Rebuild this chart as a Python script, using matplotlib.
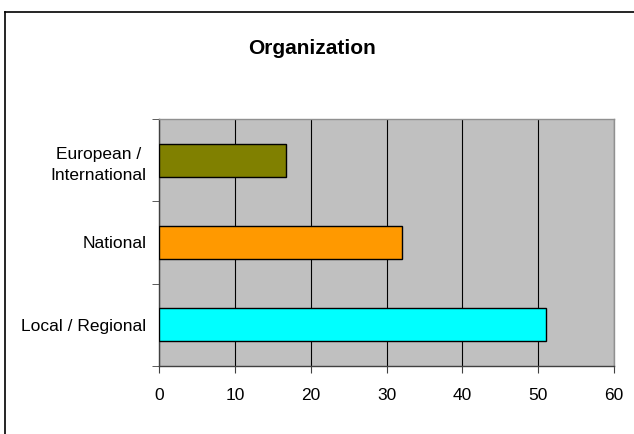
import matplotlib
matplotlib.use('Agg')
import matplotlib.pyplot as plt
from matplotlib.lines import Line2D

categories = ["Local / Regional", "National", "European / \nInternational"]
values = [51, 32, 16.7]
bar_colors = ["#00FFFF", "#FF9900", "#808000"]
x_ticks = [0, 10, 20, 30, 40, 50, 60]

plt.rcParams['font.family'] = ['Liberation Sans', 'DejaVu Sans']

fig = plt.figure(figsize=(6.34, 4.34), dpi=100)
W, H = 634, 434

# outer frame (left and top edge of the embedded chart)
fig.add_artist(Line2D([5 / W, 5 / W], [0, 1 - 12 / H], color='black', lw=1.2, transform=fig.transFigure))
fig.add_artist(Line2D([5 / W, 1], [1 - 12 / H, 1 - 12 / H], color='black', lw=1.2, transform=fig.transFigure))

ax = fig.add_axes([159 / W, 1 - 366 / H, (614 - 159) / W, (366 - 119) / H])
ax.set_facecolor('#C0C0C0')

pos = list(range(len(categories)))
ax.barh(pos, values, height=0.4, color=bar_colors, edgecolor='black', linewidth=1, zorder=3)

ax.set_xlim(0, 60)
ax.set_ylim(-0.5, len(categories) - 0.5)
ax.set_xticks(x_ticks)
ax.set_xticklabels([str(t) for t in x_ticks], fontsize=12.5)
ax.set_yticks(pos)
ax.set_yticklabels(categories, fontsize=12.5, ha='right', multialignment='right', linespacing=1.55)
ax.set_yticks([p + 0.5 for p in pos[:-1]] + [-0.5, len(categories) - 0.5], minor=True)

ax.tick_params(axis='y', which='major', length=0, pad=9)
ax.tick_params(axis='y', which='minor', length=5, direction='out', color='#404040')
ax.tick_params(axis='x', length=5, direction='out', pad=11, color='#404040')

ax.xaxis.grid(True, color='black', linewidth=0.8, zorder=1)
ax.set_axisbelow(True)

for s in ['left', 'bottom']:
    ax.spines[s].set_color('#404040')
    ax.spines[s].set_linewidth(1)
for s in ['top', 'right']:
    ax.spines[s].set_color('#909090')
    ax.spines[s].set_linewidth(1)

fig.text(312 / W, 1 - 49 / H, "Organization", ha='center', va='center', fontsize=15, fontweight='bold')

fig.savefig('out.png', dpi=100)
